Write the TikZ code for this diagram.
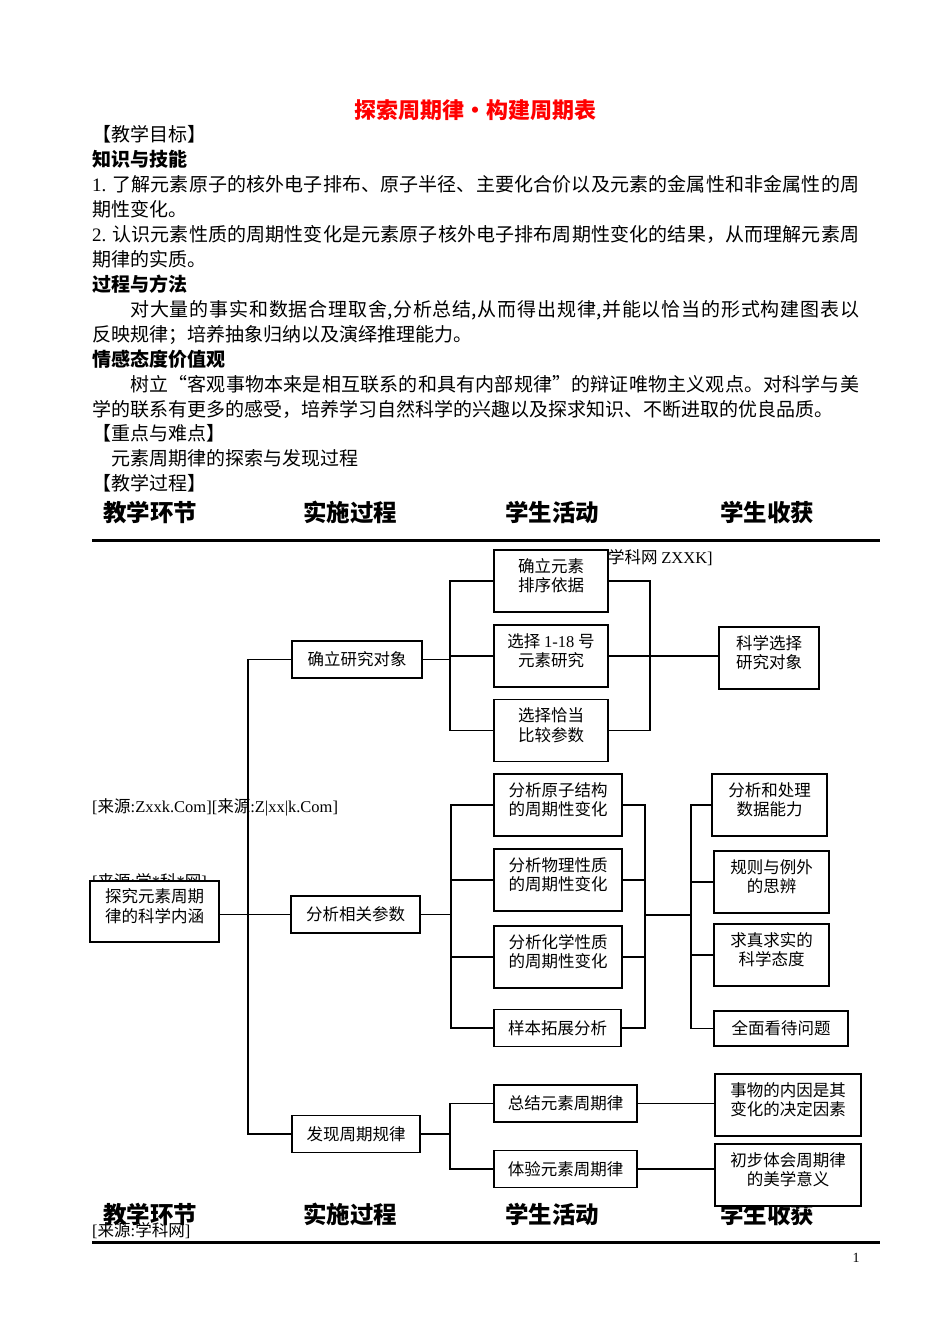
\documentclass[tikz,border=0pt]{standalone}
\usepackage{fontspec}
\setmainfont{Noto Sans CJK SC}
\newfontfamily\latfont{Liberation Serif}
\newcommand\lat[1]{{\latfont #1}}
\XeTeXlinebreaklocale "zh"
\XeTeXlinebreakskip=0pt plus 4pt
\newcommand\bodyfont{\fontsize{19}{25}\selectfont}
\newcommand\jline[1]{\parbox[b]{767pt}{\parfillskip=0pt\relax #1}}

\begin{document}
\begin{tikzpicture}[
    x=1pt, y=-1pt,
    txt/.style={anchor=base west, inner sep=0pt, font=\bodyfont},
    head/.style={anchor=base west, inner sep=0pt, font=\fontsize{23.5}{28}\selectfont\bfseries},
    srcmark/.style={anchor=base west, inner sep=0pt, font=\fontsize{16.5}{20}\selectfont},
    box/.style={draw, fill=white, line width=1.2pt, inner sep=0pt, align=center,
                font=\fontsize{16.5}{19.5}\selectfont},
    tall/.style={minimum height=62pt, text depth=12pt},
    flat/.style={minimum height=37pt},
    link/.style={line width=1.2pt},
  ]
  \fill[white] (0,0) rectangle (950,1344);
  \useasboundingbox (0,0) rectangle (950,1344);

  % title and objectives
  \node[anchor=base, inner sep=0pt, text=red, font=\fontsize{22}{26}\selectfont\bfseries]
    (title) at (475,118.4) {探索周期律•构建周期表};
  \node[txt] (l1)  at (92,141.2) {【教学目标】};
  \node[txt, font=\bodyfont\bfseries] (l2) at (92,166.2) {知识与技能};
  \node[txt] (l3)  at (92,191.2) {\jline{\lat{1.} 了解元素原子的核外电子排布、原子半径、主要化合价以及元素的金属性和非金属性的周}};
  \node[txt] (l4)  at (92,216.2) {期性变化。};
  \node[txt] (l5)  at (92,241.2) {\jline{\lat{2.} 认识元素性质的周期性变化是元素原子核外电子排布周期性变化的结果，从而理解元素周}};
  \node[txt] (l6)  at (92,266.2) {期律的实质。};
  \node[txt, font=\bodyfont\bfseries] (l7) at (92,291.2) {过程与方法};
  \node[txt] (l8)  at (92,316.2) {\jline{\hspace*{38pt}对大量的事实和数据合理取舍,分析总结,从而得出规律,并能以恰当的形式构建图表以}};
  \node[txt] (l9)  at (92,341.2) {反映规律；培养抽象归纳以及演绎推理能力。};
  \node[txt, font=\bodyfont\bfseries] (l10) at (92,366.2) {情感态度价值观};
  \node[txt] (l11) at (92,391.2) {\jline{\hspace*{38pt}树立“客观事物本来是相互联系的和具有内部规律”的辩证唯物主义观点。对科学与美}};
  \node[txt] (l12) at (92,416.2) {学的联系有更多的感受，培养学习自然科学的兴趣以及探求知识、不断进取的优良品质。};
  \node[txt] (l13) at (92,440.2) {【重点与难点】};
  \node[txt] (l14) at (111,465.2) {元素周期律的探索与发现过程};
  \node[txt] (l15) at (92,490.2) {【教学过程】};

  % column heads, top and bottom
  \foreach \y/\r in {521/top, 1223/bot} {
    \node[head] (a\r) at (103,\y) {教学环节};
    \node[head] (b\r) at (303,\y) {实施过程};
    \node[head] (c\r) at (505,\y) {学生活动};
    \node[head] (d\r) at (720,\y) {学生收获};
  }
  \draw[line width=3pt] (92,540) -- (880,540);
  \draw[line width=3pt] (92,1242) -- (880,1242);

  % stray source marks
  \node[srcmark] (m1) at (608,563) {学科网 \lat{ZXXK]}};
  \node[srcmark] (m2) at (92,812) {\lat{[}来源\lat{:Zxxk.Com][}来源\lat{:Z|xx|k.Com]}};
  \node[srcmark] (m3) at (92,887) {\lat{[}来源\lat{:}学\lat{*}科\lat{*}网\lat{]}};
  \node[srcmark] (m4) at (92,1236) {\lat{[}来源\lat{:}学科网\lat{]}};
  \node[anchor=base, inner sep=0pt, font=\latfont\fontsize{14}{16}\selectfont] (pg) at (856,1262) {1};

  % boxes
  \node[box, tall, minimum width=129pt, minimum height=61pt] (root) at (154.5,911.5) {探究元素周期\\律的科学内涵};
  \node[box, flat, minimum width=130pt] (obj)  at (357,659.5) {确立研究对象};
  \node[box, flat, minimum width=129pt] (para) at (355.5,914.5) {分析相关参数};
  \node[box, flat, minimum width=128pt] (rule) at (356,1134) {发现周期规律};

  \node[box, tall, minimum width=114pt] (order) at (551,581)   {确立元素\\排序依据};
  \node[box, tall, minimum width=114pt] (pick)  at (551,656)   {选择 \lat{1-18} 号\\元素研究};
  \node[box, tall, minimum width=114pt] (param) at (551,730.5) {选择恰当\\比较参数};
  \node[box, tall, minimum width=100pt] (sci)   at (769,658)   {科学选择\\研究对象};

  \node[box, tall, minimum width=128pt] (atom)   at (558,805)    {分析原子结构\\的周期性变化};
  \node[box, tall, minimum width=128pt] (phys)   at (558,880)    {分析物理性质\\的周期性变化};
  \node[box, tall, minimum width=128pt] (chem)   at (558,957)    {分析化学性质\\的周期性变化};
  \node[box, flat, minimum width=127pt] (sample) at (557.5,1028) {样本拓展分析};
  \node[box, tall, minimum width=115pt] (data)   at (769.5,805)  {分析和处理\\数据能力};
  \node[box, tall, minimum width=115pt] (except) at (771.5,882)  {规则与例外\\的思辨};
  \node[box, tall, minimum width=115pt] (truth)  at (771.5,955)  {求真求实的\\科学态度};
  \node[box, minimum width=134pt, minimum height=35pt] (whole) at (781,1028.5) {全面看待问题};

  \node[box, flat, minimum width=143pt] (sum)    at (565.5,1103.5) {总结元素周期律};
  \node[box, flat, minimum width=143pt] (exp)    at (565.5,1169)   {体验元素周期律};
  \node[box, tall, minimum width=146pt] (cause)  at (788,1105)     {事物的内因是其\\变化的决定因素};
  \node[box, tall, minimum width=146pt] (beauty) at (788,1175)     {初步体会周期律\\的美学意义};

  % junctions
  \coordinate (sp) at (248,900);
  \coordinate (jA) at (450,658);
  \coordinate (kA) at (650,658);
  \coordinate (jB) at (451,915);
  \coordinate (kB) at (645,915);
  \coordinate (lB) at (691,915);
  \coordinate (jC) at (450,1135);

  % main spine
  \draw[link] (obj.west) -| (sp) |- (rule.west);
  \draw[link] (root.east |- para.west) -- (para.west);

  % first branch
  \draw[link] (order.west) -| (jA) |- (param.west);
  \draw[link] (obj.east) -- (obj.east -| jA);
  \draw[link] (pick.west) -- (pick.west -| jA);
  \draw[link] (order.east) -| (kA) |- (param.east);
  \draw[link] (pick.east) -- (pick.east -| sci.west);

  % second branch
  \draw[link] (atom.west) -| (jB) |- (sample.west);
  \draw[link] (para.east) -- (para.east -| jB);
  \draw[link] (atom.east) -| (kB) |- (sample.east);
  \foreach \n in {phys, chem} {
    \draw[link] (\n.west) -- (\n.west -| jB);
    \draw[link] (\n.east) -- (\n.east -| kB);
  }
  \draw[link] (kB) -- (lB);
  \draw[link] (data.west) -| (lB) |- (whole.west);
  \foreach \n in {except, truth}
    \draw[link] (\n.west) -- (\n.west -| lB);

  % third branch
  \draw[link] (sum.west) -| (jC) |- (exp.west);
  \draw[link] (rule.east) -- (rule.east -| jC);
  \draw[link] (sum.east) -- (sum.east -| cause.west);
  \draw[link] (exp.east) -- (exp.east -| beauty.west);
\end{tikzpicture}
\end{document}
